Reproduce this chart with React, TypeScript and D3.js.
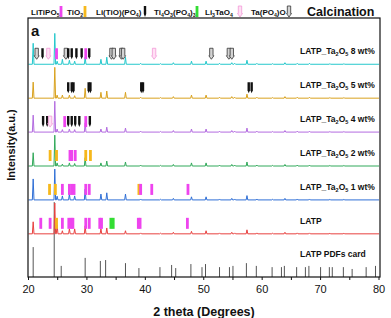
import React from "react";
import * as d3 from "d3";

// 2 theta positions of the LATP reflections seen in every measured pattern
const peakPos = [20.8, 24.5, 24.9, 25.8, 27.0, 27.9, 29.7, 32.4, 33.4, 36.6, 39.2, 42.6, 44.8, 47.9, 50.4, 52.7, 54.8, 55.3, 57.4, 59.1, 61.8, 63.9, 66.0, 68.1, 71.6, 74.0];

// intensities (a.u.) per sample, same order as peakPos
const latpInt = [39, 100, 29, 10, 16, 16, 26, 16, 19, 10, 3, 2, 5, 8, 10, 3, 5, 3, 13, 3, 2, 5, 3, 3, 2, 2];
const wt1Int = [68, 100, 12, 13, 19, 13, 35, 19, 23, 19, 3, 2, 5, 10, 10, 3, 5, 3, 14, 3, 2, 5, 3, 3, 2, 2];
const wt2Int = [43, 100, 10, 6, 10, 8, 27, 10, 16, 13, 3, 2, 5, 10, 10, 3, 5, 3, 13, 3, 2, 5, 3, 3, 2, 2];
const wt4Int = [55, 100, 10, 8, 10, 8, 30, 10, 16, 13, 3, 2, 5, 10, 10, 3, 5, 3, 13, 3, 2, 5, 3, 3, 2, 2];
const wt5Int = [52, 100, 10, 10, 10, 8, 32, 19, 23, 19, 3, 2, 5, 10, 10, 3, 5, 3, 13, 3, 2, 5, 3, 3, 2, 2];
const wt8Int = [68, 100, 10, 16, 13, 10, 23, 16, 23, 23, 3, 2, 5, 10, 10, 3, 5, 3, 13, 3, 2, 5, 3, 3, 2, 2];

// reference card
const cardPos = [20.8, 24.4, 25.6, 29.7, 32.3, 33.2, 36.6, 38.9, 42.5, 44.5, 45.2, 47.8, 49.7, 50.3, 52.7, 54.4, 55.0, 57.3, 59.0, 61.7, 63.3, 63.8, 65.9, 67.4, 68.0, 70.0, 71.5, 72.0, 73.9, 75.4, 77.8, 79.4];
const cardInt = [97, 243, 36, 62, 52, 55, 45, 29, 32, 39, 29, 42, 32, 42, 32, 32, 36, 45, 36, 32, 32, 36, 32, 32, 36, 32, 32, 32, 32, 26, 32, 36];

// phase markers: [phase, 2theta]
// M LiTiPO5, O TiO2, K Li(TiO)(PO4), G Ti4O3(PO4)3, P Li3TaO4, S Ta(PO4)O
const latpMarks = [["M", 22.1], ["M", 23.7], ["O", 24.8], ["M", 25.8], ["M", 26.9], ["M", 27.3], ["M", 27.6], ["M", 29.8], ["M", 30.4], ["M", 32.2], ["M", 32.5], ["G", 34.1], ["G", 34.5], ["M", 38.8], ["M", 39.1], ["M", 47.2]];
const wt1Marks = [["O", 23.6], ["O", 24.6], ["M", 25.8], ["M", 27.0], ["M", 27.4], ["M", 27.8], ["M", 29.8], ["M", 30.4], ["O", 38.9], ["M", 39.2], ["M", 41.1], ["M", 47.3]];
const wt2Marks = [["O", 23.7], ["O", 24.8], ["M", 27.1], ["M", 27.4], ["M", 28.0], ["O", 29.8], ["O", 30.6]];
const wt4Marks = [["K", 22.5], ["K", 23.2], ["P", 23.7], ["M", 26.2], ["K", 26.8], ["K", 27.4], ["K", 28.0], ["K", 28.7], ["M", 29.8], ["K", 30.5]];
const wt5Marks = [["K", 26.8], ["K", 27.4], ["K", 27.7], ["K", 30.3], ["K", 30.6], ["K", 39.3], ["K", 39.6], ["K", 57.7], ["K", 58.2]];
const wt8Marks = [["S", 21.4], ["K", 22.4], ["P", 23.4], ["M", 24.8], ["S", 26.4], ["K", 26.8], ["K", 27.4], ["K", 28.2], ["K", 29.1], ["M", 29.8], ["K", 30.4], ["S", 34.2], ["S", 34.6], ["S", 35.9], ["S", 36.2], ["P", 41.5], ["S", 51.3], ["S", 54.3], ["S", 54.8]];

const sampleNames = ["LATP", "LATP_Ta2O5 1 wt%", "LATP_Ta2O5 2 wt%", "LATP_Ta2O5 4 wt%", "LATP_Ta2O5 5 wt%", "LATP_Ta2O5 8 wt%"];
const sampleOffsets = [140, 250, 360, 470, 580, 690];
const xTicks = [20, 30, 40, 50, 60, 70, 80];

const phases = [
  { key: "M", label: [["LiTiPO", 0], ["5", 1]] },
  { key: "O", label: [["TiO", 0], ["2", 1]] },
  { key: "K", label: [["Li(TiO)(PO", 0], ["4", 1], [")", 0]] },
  { key: "G", label: [["Ti", 0], ["4", 1], ["O", 0], ["3", 1], ["(PO", 0], ["4", 1], [")", 0], ["3", 1]] },
  { key: "P", label: [["Li", 0], ["3", 1], ["TaO", 0], ["4", 1]] },
  { key: "S", label: [["Ta(PO", 0], ["4", 1], [")O", 0]] },
];

const W = 391, H = 318;
const m = { left: 28, right: 380, top: 18, bottom: 277 };
const font = "'Liberation Sans', Arial, sans-serif";

const x = d3.scaleLinear().domain([20, 80]).range([m.left + 0.5, m.right - 1]);
const y = d3.scaleLinear().domain([0, 840]).range([m.bottom, m.top]);

const colors = ["#E8413F", "#2F6FD6", "#31A95A", "#B36BE0", "#D9A21E", "#24C8CC"];
const markColor: Record<string, string> = { M: "#EE44EE", O: "#F6B81C", K: "#111", G: "#33DD33" };

function pattern(pos: number[], ints: number[], off: number) {
  const pts: [number, number][] = [[20, off]];
  pos.forEach((p, i) => {
    pts.push([p - 0.14, off], [p, off + ints[i]], [p + 0.14, off]);
  });
  pts.push([80, off]);
  return d3.line<[number, number]>().x((d) => x(d[0])).y((d) => y(d[1]))(pts) || "";
}

function Marker({ type, cx, bottom }: { type: string; cx: number; bottom: number }) {
  const h = 11;
  if (type === "M" || type === "O" || type === "G") {
    return <rect x={cx - 1.4} y={bottom - h} width={2.8} height={h} fill={markColor[type]} />;
  }
  if (type === "K") {
    const d = `M${cx - 1.2},${bottom - h}H${cx + 1.2}V${bottom - 3}L${cx},${bottom}L${cx - 1.2},${bottom - 3}Z`;
    return <path d={d} fill="#111" />;
  }
  const fill = type === "P" ? "#FFE0F4" : "#D4D4D4";
  const stroke = type === "P" ? "#F29AD8" : "#333";
  const d = `M${cx - 1.7},${bottom - h}H${cx + 1.7}V${bottom - 3.5}H${cx + 2.5}L${cx},${bottom}L${cx - 2.5},${bottom - 3.5}H${cx - 1.7}Z`;
  return <path d={d} fill={fill} stroke={stroke} strokeWidth={0.8} />;
}

function Label({ parts, size }: { parts: (string | number)[][]; size: number }) {
  return (
    <>
      {parts.map(([t, sub], i) => (
        <tspan key={i} fontSize={sub ? size * 0.65 : size} dy={sub ? size * 0.22 : i > 0 && parts[i - 1][1] ? -size * 0.22 : 0}>
          {t}
        </tspan>
      ))}
    </>
  );
}

function sampleLabel(name: string) {
  const m2 = name.match(/^LATP_Ta2O5 (.*)$/);
  if (!m2) return [[name, 0]];
  return [["LATP_Ta", 0], ["2", 1], ["O", 0], ["5", 1], [" " + m2[1], 0]];
}

const legendX = [
  { t: 31, mk: 61 },
  { t: 67, mk: 85 },
  { t: 96, mk: 145 },
  { t: 154, mk: 197 },
  { t: 205, mk: 240 },
  { t: 251, mk: 289 },
];

export default function App() {
  const ints = [latpInt, wt1Int, wt2Int, wt4Int, wt5Int, wt8Int];
  const marks = [latpMarks, wt1Marks, wt2Marks, wt4Marks, wt5Marks, wt8Marks];
  const tickVals = d3.range(20, 81, 5);
  return (
    <svg width={W} height={H} style={{ position: "absolute", left: 0, top: 0, background: "#fff" }} fontFamily={font}>
      {/* legend */}
      {phases.map((ph, i) => (
        <g key={ph.key}>
          <text x={legendX[i].t} y={15} fontSize={8} fontWeight="bold" fill="#111">
            <Label parts={ph.label} size={8} />
          </text>
          <Marker type={ph.key} cx={legendX[i].mk} bottom={17} />
        </g>
      ))}
      <text x={307} y={16} fontSize={12.5} fontWeight="bold" fill="#111">Calcination</text>

      {/* card */}
      {cardPos.map((p, i) => (
        <line key={i} x1={x(p)} x2={x(p)} y1={y(0)} y2={y(cardInt[i])} stroke="#555" strokeWidth={1} />
      ))}
      <text x={300} y={257} fontSize={8.5} fontWeight="bold" fill="#111">LATP PDFs card</text>

      {/* patterns */}
      {sampleNames.map((name, s) => (
        <g key={name}>
          <path d={pattern(peakPos, ints[s], sampleOffsets[s])} fill="none" stroke={colors[s]} strokeWidth={1} />
          {marks[s].map(([t, p], j) => (
            <Marker key={j} type={t as string} cx={x(p as number)} bottom={y(sampleOffsets[s]) - 5} />
          ))}
          <text x={300} y={y(sampleOffsets[s]) - 10} fontSize={8.5} fontWeight="bold" fill="#111">
            <Label parts={sampleLabel(name)} size={8.5} />
          </text>
        </g>
      ))}

      {/* frame and axis */}
      <rect x={m.left} y={m.top} width={m.right - m.left} height={m.bottom - m.top} fill="none" stroke="#111" strokeWidth={1.2} />
      {tickVals.map((t) => (
        <line key={t} x1={x(t)} x2={x(t)} y1={m.bottom} y2={m.bottom + 3} stroke="#111" strokeWidth={1} />
      ))}
      {xTicks.map((t) => (
        <text key={t} x={x(t)} y={293} fontSize={11} textAnchor="middle" fill="#111">{t}</text>
      ))}
      <text x={204} y={316} fontSize={12.5} fontWeight="bold" textAnchor="middle" fill="#111">2 theta (Degrees)</text>
      <text transform="translate(15,145) rotate(-90)" fontSize={11} fontWeight="bold" textAnchor="middle" fill="#111">Intensity(a.u.)</text>
      <text x={31} y={36} fontSize={15} fontWeight="bold" fill="#111">a</text>
    </svg>
  );
}
